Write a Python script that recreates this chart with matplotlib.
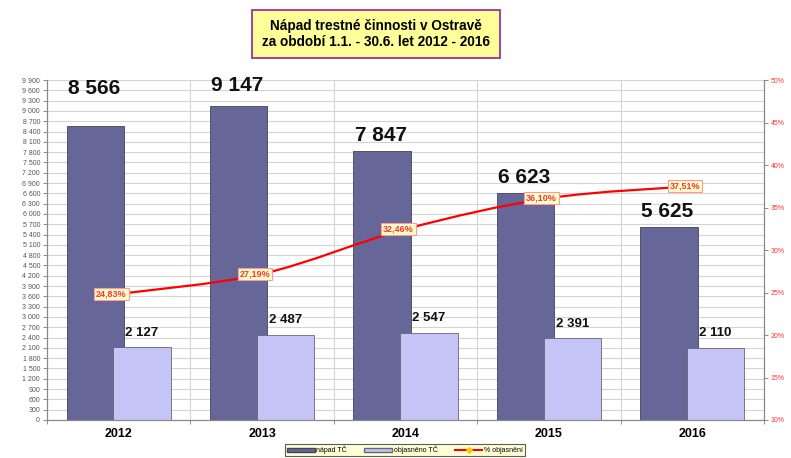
import matplotlib
matplotlib.use("Agg")
import matplotlib.pyplot as plt
from matplotlib.path import Path
from matplotlib.patches import PathPatch, Patch, Rectangle
from matplotlib.lines import Line2D
import numpy as np

plt.rcParams["font.family"] = ["Liberation Sans", "DejaVu Sans"]

years = ["2012", "2013", "2014", "2015", "2016"]
napad = [8566, 9147, 7847, 6623, 5625]
objasneno = [2127, 2487, 2547, 2391, 2110]
pct = [24.83, 27.19, 32.46, 36.10, 37.51]
pct_labels = ["24,83%", "27,19%", "32,46%", "36,10%", "37,51%"]
# label gap above dark bars, in points (style)
napad_label_gap = [20, 8, 4, 4, 4]

def fmt_sp(v):
    return f"{v:,}".replace(",", " ")

fig = plt.figure(figsize=(7.91, 4.58), dpi=100)
ax = fig.add_axes([47/791, (458-420)/458, (764-47)/791, (420-80)/458])
ax2 = ax.twinx()

x = np.arange(len(years))
dark = "#666699"
light = "#C4C4F6"

ax.set_xlim(-0.5, len(years) - 0.5)
ax.set_ylim(0, 9900)
ax.set_yticks(np.arange(0, 9901, 300))
ax.set_yticklabels([fmt_sp(v) for v in range(0, 9901, 300)], fontsize=5, color="#555555")
ax.set_xticks(x)
ax.set_xticklabels(years, fontsize=9, fontweight="bold")
ax.tick_params(axis="x", length=0, pad=6)
ax.tick_params(axis="y", length=3, width=0.6, color="#777777", pad=2)
ax.set_xticks(np.arange(-0.5, len(years), 1), minor=True)
ax.tick_params(axis="x", which="minor", length=3, color="#777777")
ax.grid(axis="y", color="#D4D4D4", linewidth=0.8)
ax.grid(axis="x", which="minor", color="#D4D4D4", linewidth=0.8)
ax.set_axisbelow(True)
ax.spines["top"].set_visible(False)
ax2.spines["top"].set_visible(False)
for sp in ["left", "bottom", "right"]:
    ax.spines[sp].set_color("#888888")
    ax2.spines[sp].set_color("#888888")

ax.bar(x - 0.163, napad, width=0.4, color=dark, edgecolor="#444455", linewidth=0.6, zorder=2)
ax.bar(x + 0.163, objasneno, width=0.4, color=light, edgecolor="#666677", linewidth=0.6, zorder=3)

for xi, v, g in zip(x, napad, napad_label_gap):
    ax.annotate(fmt_sp(v), (xi - 0.163, v), xytext=(-1, g), textcoords="offset points",
                ha="center", va="bottom", fontsize=15, fontweight="bold", color="#111111", zorder=5)
for xi, v in zip(x, objasneno):
    ax.annotate(fmt_sp(v), (xi + 0.163, v), xytext=(0, 6), textcoords="offset points",
                ha="center", va="bottom", fontsize=9.5, fontweight="bold", color="#111111", zorder=5)

ax2.set_ylim(10, 50)
ax2.set_yticks(np.arange(10, 51, 5))
ax2.set_yticklabels([f"{v}%" for v in range(10, 51, 5)], fontsize=5, color="#FF3333")
ax2.tick_params(axis="y", length=3, width=0.6, color="#777777", pad=2)

# smooth curve (Catmull-Rom -> cubic Bezier) through data points
pts = np.column_stack([x, pct]).astype(float)
verts = [tuple(pts[0])]
codes = [Path.MOVETO]
n = len(pts)
for i in range(n - 1):
    p0 = pts[i - 1] if i > 0 else pts[i]
    p1 = pts[i]
    p2 = pts[i + 1]
    p3 = pts[i + 2] if i + 2 < n else pts[i + 1]
    c1 = p1 + (p2 - p0) / 6.0
    c2 = p2 - (p3 - p1) / 6.0
    verts += [tuple(c1), tuple(c2), tuple(p2)]
    codes += [Path.CURVE4, Path.CURVE4, Path.CURVE4]
ax2.add_patch(PathPatch(Path(verts, codes), facecolor="none", edgecolor="#FF0000", linewidth=1.6, zorder=4))

for xi, v, lab in zip(x, pct, pct_labels):
    ax2.text(xi - 0.05, v, lab, ha="center", va="center", fontsize=6.5, fontweight="bold", color="#FF3333",
             bbox=dict(boxstyle="square,pad=0.2", facecolor="#FFFFCC", edgecolor="#FF9999", linewidth=0.8), zorder=6)

ax.set_zorder(ax2.get_zorder() - 1)
ax2.patch.set_visible(False)

# title box
fig.patches.append(Rectangle((252/791, 1 - 58/458), 248/791, 48/458, transform=fig.transFigure,
                             facecolor="#FFFF99", edgecolor="#993399", linewidth=1.3))
fig.text(376/791, 1 - 34/458, "Nápad trestné činnosti v Ostravě\nza období 1.1. - 30.6. let 2012 - 2016",
         ha="center", va="center", fontsize=9.8, fontweight="bold", linespacing=1.15)

handles = [Patch(facecolor=dark, edgecolor="#444455", label="nápad TČ"),
           Patch(facecolor=light, edgecolor="#666677", label="objasněno TČ"),
           Line2D([0], [0], color="#FF0000", marker="D", markersize=3, markerfacecolor="#FFCC00",
                  markeredgecolor="#FFCC00", label="% objasnění")]
leg = fig.legend(handles=handles, loc="center", bbox_to_anchor=(405/791, 1 - 450/458), ncol=3,
                 fontsize=5, frameon=True, fancybox=False, handlelength=4, handleheight=0.6,
                 columnspacing=2.5, borderpad=0.3, handletextpad=0.2)
leg.get_frame().set_facecolor("#FFFFCC")
leg.get_frame().set_edgecolor("#333333")
leg.get_frame().set_linewidth(0.8)

fig.savefig("out.png", dpi=100)
